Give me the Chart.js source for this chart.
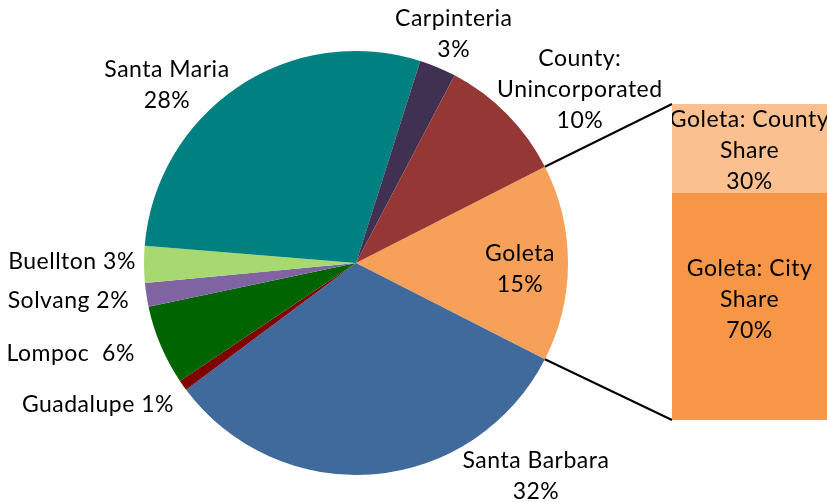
<!DOCTYPE html>
<html>
<head>
<meta charset="utf-8">
<script src="https://cdn.jsdelivr.net/npm/chart.js"></script>
<style>
  html, body { margin: 0; padding: 0; background: #fff; }
  #wrap { position: relative; width: 827px; height: 502px; overflow: hidden; }
  #pie { position: absolute; left: 0; top: 0; }
  #bar { position: absolute; left: 672px; top: 104px; }
</style>
</head>
<body>
<div id="wrap">
  <canvas id="pie" width="827" height="502"></canvas>
  <canvas id="bar" width="155" height="316"></canvas>
</div>
<script>
// pie slices, clockwise starting with the split slice (Goleta)
const pieLabels = ['Goleta', 'Santa Barbara', 'Guadalupe', 'Lompoc', 'Solvang', 'Buellton', 'Santa Maria', 'Carpinteria', 'County: Unincorporated'];
const pieValues = [15.0, 32.3, 0.8, 6.1, 1.8, 2.8, 28.6, 2.8, 9.8];
const piePctText = ['15%', '32%', '1%', '6%', '2%', '3%', '28%', '3%', '10%'];

// the bar that splits Goleta
const barLabels = ['Goleta: City Share', 'Goleta: County Share'];
const barValues = [71.7, 28.3];
const barPctText = ['70%', '30%'];

const pieColors = ['#F6A05A', '#416A9C', '#800000', '#006400', '#8064A2', '#A8D870', '#008080', '#403152', '#953735'];
const barColors = ['#F79646', '#FAC090'];

// how each label is broken into lines and nudged from the slice's outer edge
// inline: percent goes on the same line after the given separator
const pieLabelStyle = [
  { lines: ['Goleta'], dx: -48, dy: 6 },
  { lines: ['Santa Barbara'], dx: 162, dy: 2 },
  { lines: ['Guadalupe'], inline: ' ', dx: -85, dy: 19 },
  { lines: ['Lompoc'], inline: '  ', dx: -90, dy: 8 },
  { lines: ['Solvang'], inline: ' ', dx: -78, dy: 6 },
  { lines: ['Buellton'], inline: ' ', dx: -72, dy: -3 },
  { lines: ['Santa Maria'], dx: -71, dy: -2 },
  { lines: ['Carpinteria'], dx: 16, dy: -33 },
  { lines: ['County:', 'Unincorporated'], dx: 73, dy: -24 }
];
const barLabelStyle = [
  { lines: ['Goleta: City', 'Share'], dy: -7 },
  { lines: ['Goleta: County', 'Share'], dy: 2 }
];

const FONT = '23px Lato';
const LINE_H = 31;

function drawLines(ctx, lines, x, y) {
  ctx.save();
  ctx.font = FONT;
  ctx.fillStyle = '#000';
  ctx.textAlign = 'center';
  ctx.textBaseline = 'middle';
  if ('letterSpacing' in ctx) ctx.letterSpacing = '0.5px';
  const top = y - (lines.length - 1) * LINE_H / 2;
  lines.forEach((t, i) => ctx.fillText(t, x, top + i * LINE_H));
  ctx.restore();
}

const barLabelPlugin = {
  id: 'barLabels',
  afterDatasetsDraw(chart) {
    const ctx = chart.ctx;
    chart.data.datasets.forEach((ds, i) => {
      const el = chart.getDatasetMeta(i).data[0];
      const cy = (el.y + el.base) / 2 + barLabelStyle[i].dy;
      drawLines(ctx, barLabelStyle[i].lines.concat([barPctText[i]]), el.x, cy);
    });
  }
};

const barChart = new Chart(document.getElementById('bar'), {
  type: 'bar',
  data: {
    labels: [''],
    datasets: barLabels.map((lab, i) => ({
      label: lab,
      data: [barValues[i]],
      backgroundColor: barColors[i],
      borderWidth: 0,
      barPercentage: 1,
      categoryPercentage: 1
    }))
  },
  options: {
    responsive: false,
    animation: false,
    layout: { padding: 0 },
    plugins: { legend: { display: false }, tooltip: { enabled: false } },
    scales: {
      x: { stacked: true, display: false },
      y: { stacked: true, display: false, min: 0, max: 100 }
    }
  },
  plugins: [barLabelPlugin]
});

const pieExtras = {
  id: 'pieExtras',
  afterDatasetsDraw(chart) {
    const ctx = chart.ctx;
    const arcs = chart.getDatasetMeta(0).data;

    // connector lines from the Goleta slice to the bar
    const g = arcs[0];
    const barCanvas = barChart.canvas;
    const area = barChart.chartArea;
    const topEl = barChart.getDatasetMeta(1).data[0];
    const botEl = barChart.getDatasetMeta(0).data[0];
    const bx = barCanvas.offsetLeft + area.left;
    const by1 = barCanvas.offsetTop + topEl.y;
    const by2 = barCanvas.offsetTop + botEl.base;
    ctx.save();
    ctx.strokeStyle = '#000';
    ctx.lineWidth = 2;
    ctx.beginPath();
    ctx.moveTo(g.x + g.outerRadius * Math.cos(g.startAngle), g.y + g.outerRadius * Math.sin(g.startAngle));
    ctx.lineTo(bx, by1);
    ctx.moveTo(g.x + g.outerRadius * Math.cos(g.endAngle), g.y + g.outerRadius * Math.sin(g.endAngle));
    ctx.lineTo(bx, by2);
    ctx.stroke();
    ctx.restore();

    // slice labels
    arcs.forEach((a, i) => {
      const mid = (a.startAngle + a.endAngle) / 2;
      const st = pieLabelStyle[i];
      const x = a.x + a.outerRadius * Math.cos(mid) + st.dx;
      const y = a.y + a.outerRadius * Math.sin(mid) + st.dy;
      let lines;
      if (st.inline !== undefined) {
        lines = [st.lines[0] + st.inline + piePctText[i]];
      } else {
        lines = st.lines.concat([piePctText[i]]);
      }
      drawLines(ctx, lines, x, y);
    });
  }
};

new Chart(document.getElementById('pie'), {
  type: 'pie',
  data: {
    labels: pieLabels,
    datasets: [{
      data: pieValues,
      backgroundColor: pieColors,
      borderWidth: 0
    }]
  },
  options: {
    responsive: false,
    animation: false,
    rotation: 63,
    layout: { padding: { left: 144, right: 259, top: 51, bottom: 27 } },
    plugins: { legend: { display: false }, tooltip: { enabled: false } }
  },
  plugins: [pieExtras]
});
</script>
</body>
</html>
